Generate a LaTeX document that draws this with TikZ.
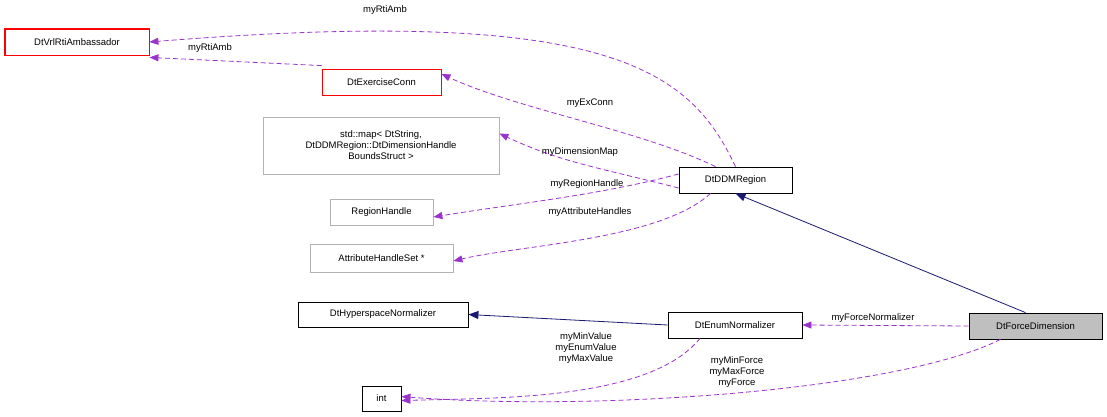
\documentclass[tikz,border=0pt]{standalone}
\usepackage{fontspec}
\setmainfont{Liberation Sans}
\usetikzlibrary{arrows.meta}
\definecolor{purp}{HTML}{9A32CD}
\definecolor{navy}{HTML}{191970}
\definecolor{bred}{HTML}{FF0000}
\begin{document}
\begin{tikzpicture}[x=1pt,y=-1pt,line width=0.8pt,
 box/.style={draw,rectangle,inner sep=0pt,font=\fontsize{9.5}{11}\selectfont,align=center},
 redbox/.style={box,draw=bred},
 graybox/.style={box,draw=gray!60},
 dep/.style={purp,dashed,dash pattern=on 5pt off 3pt,-{Triangle[length=9pt,width=7pt]}},
 inh/.style={navy,-{Triangle[length=10pt,width=8pt]}},
 lab/.style={font=\fontsize{9.5}{11}\selectfont,inner sep=1pt,align=center}]
\useasboundingbox (0,0) rectangle (1107,417);
\node[redbox,minimum width=144pt,minimum height=26pt] (amb) at (77,42) {DtVrlRtiAmbassador};
\node[redbox,minimum width=119pt,minimum height=26pt] (ex) at (381.5,82) {DtExerciseConn};
\node[graybox,minimum width=236pt,minimum height=57pt] (map) at (381,145.5) {std::map\textless{} DtString,\\ DtDDMRegion::DtDimensionHandle\\ BoundsStruct \textgreater};
\node[box,minimum width=113pt,minimum height=26pt] (ddm) at (735.5,180) {DtDDMRegion};
\node[graybox,minimum width=103pt,minimum height=26pt] (rh) at (381.5,212) {RegionHandle};
\node[graybox,minimum width=143pt,minimum height=28pt] (ahs) at (381.5,258) {AttributeHandleSet *};
\node[box,minimum width=170pt,minimum height=25pt] (hyp) at (383,314.5) {DtHyperspaceNormalizer};
\node[box,minimum width=134pt,minimum height=26pt] (en) at (735,325) {DtEnumNormalizer};
\node[box,fill=gray!50,minimum width=133pt,minimum height=26pt] (fd) at (1035.5,326) {DtForceDimension};
\node[box,minimum width=39pt,minimum height=25pt] (int) at (381.5,398.5) {int};
\draw[bred] (amb.north west) rectangle (amb.south east);

\draw[inh] ([xshift=-10pt]fd.north) -- (ddm.south);
\draw[inh] (en.west) -- (hyp.east);
\draw[dep] (ddm.north) .. controls (690,70) and (610,5) .. (amb.east);
\node[lab] at (385,10) {myRtiAmb};
\draw[dep] ([yshift=3pt]ex.north west) -- ([yshift=-2pt]amb.south east);
\node[lab] at (210,48) {myRtiAmb};
\draw[dep] ([xshift=-20pt]ddm.north) .. controls (640,130) and (520,110) .. ([yshift=8pt]ex.east);
\node[lab] at (590,103) {myExConn};
\draw[dep] ([yshift=-8pt]ddm.west) .. controls (600,168) and (560,162) .. ([yshift=12pt]map.east);
\node[lab] at (580,152) {myDimensionMap};
\draw[dep] ([yshift=6pt]ddm.west) .. controls (600,195) and (520,203) .. ([yshift=-5pt]rh.east);
\node[lab] at (587,184) {myRegionHandle};
\draw[dep] ([xshift=-25pt]ddm.south) .. controls (660,240) and (520,245) .. ([yshift=-3pt]ahs.east);
\node[lab] at (590,212) {myAttributeHandles};
\draw[dep] (fd.west) -- (en.east);
\node[lab] at (873,318) {myForceNormalizer};
\draw[dep] ([xshift=-35pt]en.south) .. controls (650,400) and (500,398) .. ([yshift=-2pt]int.east);
\node[lab] at (586,348) {myMinValue\\myEnumValue\\myMaxValue};
\draw[dep] ([xshift=-35pt]fd.south) .. controls (900,390) and (600,412) .. ([yshift=2pt]int.east);
\node[lab] at (737,372) {myMinForce\\myMaxForce\\myForce};
\end{tikzpicture}
\end{document}
